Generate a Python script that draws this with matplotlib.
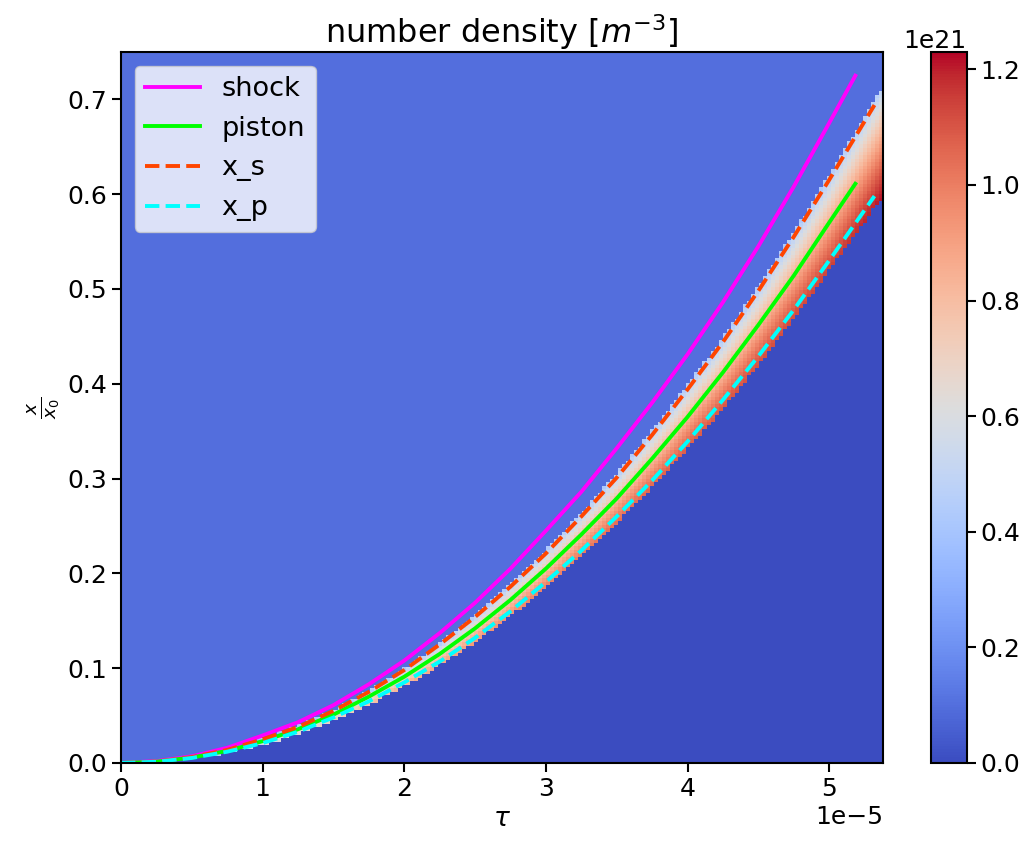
import numpy as np
import matplotlib
matplotlib.use('Agg')
import matplotlib.pyplot as plt

# curve readings, tau in units of 1e-5
tau_sp = [0, 0.25, 0.5, 0.75, 1, 1.25, 1.5, 1.75, 2, 2.25, 2.5, 2.75,
          3, 3.25, 3.5, 3.75, 4, 4.25, 4.5, 4.75, 5, 5.185]
shock = [0, 0.002, 0.007, 0.016, 0.029, 0.043, 0.061, 0.083, 0.108, 0.137, 0.169, 0.205,
         0.245, 0.286, 0.332, 0.380, 0.431, 0.486, 0.545, 0.608, 0.675, 0.725]
piston = [0, 0.0014, 0.0057, 0.0128, 0.023, 0.0356, 0.051, 0.070, 0.091, 0.115, 0.142, 0.172,
          0.205, 0.241, 0.279, 0.321, 0.365, 0.412, 0.462, 0.514, 0.570, 0.611]

tau_x = [0, 0.25, 0.5, 0.75, 1, 1.25, 1.5, 1.75, 2, 2.25, 2.5, 2.75,
         3, 3.25, 3.5, 3.75, 4, 4.25, 4.5, 4.75, 5, 5.32]
x_s = [0, 0.0015, 0.0062, 0.0138, 0.025, 0.038, 0.055, 0.075, 0.098, 0.125, 0.154, 0.186,
       0.221, 0.260, 0.301, 0.346, 0.394, 0.444, 0.498, 0.555, 0.615, 0.694]
x_p = [0, 0.0013, 0.0053, 0.0119, 0.021, 0.033, 0.048, 0.065, 0.085, 0.107, 0.132, 0.160,
       0.191, 0.224, 0.260, 0.298, 0.339, 0.383, 0.429, 0.478, 0.530, 0.598]

# compressed layer in the density map (edges sit just outside x_s / x_p)
layer_tau = [0, 1, 2, 3, 4, 5, 5.32, 5.38]
layer_top = [0, 0.026, 0.100, 0.225, 0.399, 0.621, 0.700, 0.712]
layer_bot = [0, 0.019, 0.081, 0.185, 0.331, 0.520, 0.586, 0.596]
layer_topval = [0.1, 0.35, 0.42, 0.42, 0.42, 0.42, 0.45, 0.48]  # 1e21 m^-3
layer_peak = [0.1, 0.6, 0.85, 1.0, 1.08, 1.14, 1.2, 1.22]       # 1e21 m^-3
n_upstream = 0.1    # 1e21 m^-3
n_max = 1.23        # colour scale top, 1e21 m^-3

tau_max = 5.38
y_max = 0.75

# build the density map on a grid
nt, ny = 190, 200
t_edges = np.linspace(0, tau_max, nt + 1)
y_edges = np.linspace(0, y_max, ny + 1)
tc = 0.5 * (t_edges[1:] + t_edges[:-1])
yc = 0.5 * (y_edges[1:] + y_edges[:-1])

lt2 = np.array(layer_tau) ** 2
top = np.interp(tc ** 2, lt2, layer_top)
bot = np.interp(tc ** 2, lt2, layer_bot)
topval = np.interp(tc, layer_tau, layer_topval)
peak = np.interp(tc, layer_tau, layer_peak)

T, Y = np.meshgrid(tc, yc)
dens = np.full(T.shape, n_upstream)
frac = (Y - bot[None, :]) / np.maximum(top - bot, 1e-9)[None, :]
inside = (frac >= 0) & (frac <= 1)
prof = peak[None, :] + (topval - peak)[None, :] * frac ** 1.3
dens[inside] = prof[inside]
dens[frac < 0] = 0.0

fig = plt.figure(figsize=(10.31, 8.44), dpi=100)
ax = fig.add_axes([0.1174, 0.096, 0.739, 0.8424])
cax = fig.add_axes([0.903, 0.096, 0.0345, 0.8424])

mesh = ax.pcolormesh(t_edges * 1e-5, y_edges, dens * 1e21, cmap='coolwarm',
                     vmin=0, vmax=n_max * 1e21, shading='flat')

ax.plot(np.array(tau_sp) * 1e-5, shock, color='magenta', lw=2.8, label='shock')
ax.plot(np.array(tau_sp) * 1e-5, piston, color='lime', lw=2.8, label='piston')
ax.plot(np.array(tau_x) * 1e-5, x_s, color='orangered', lw=2.8, ls='--', label='x_s')
ax.plot(np.array(tau_x) * 1e-5, x_p, color='cyan', lw=2.8, ls='--', label='x_p')

ax.set_xlim(0, tau_max * 1e-5)
ax.set_ylim(0, y_max)
ax.set_title('number density [$m^{-3}$]', fontsize=23)
ax.set_xlabel(r'$\tau$', fontsize=19)
ax.set_ylabel(r'$\frac{x}{x_0}$', fontsize=19)
ax.tick_params(labelsize=18, length=6.5, width=1.5)
ax.xaxis.get_offset_text().set_fontsize(18)
for s in ax.spines.values():
    s.set_linewidth(1.5)
ax.legend(loc='upper left', fontsize=19.5, handlelength=2.0)

cb = fig.colorbar(mesh, cax=cax)
cb.ax.tick_params(labelsize=18, length=6.5, width=1.5)
cb.ax.yaxis.get_offset_text().set_fontsize(18)
cb.outline.set_linewidth(1.5)

fig.savefig('out.png', dpi=100)
